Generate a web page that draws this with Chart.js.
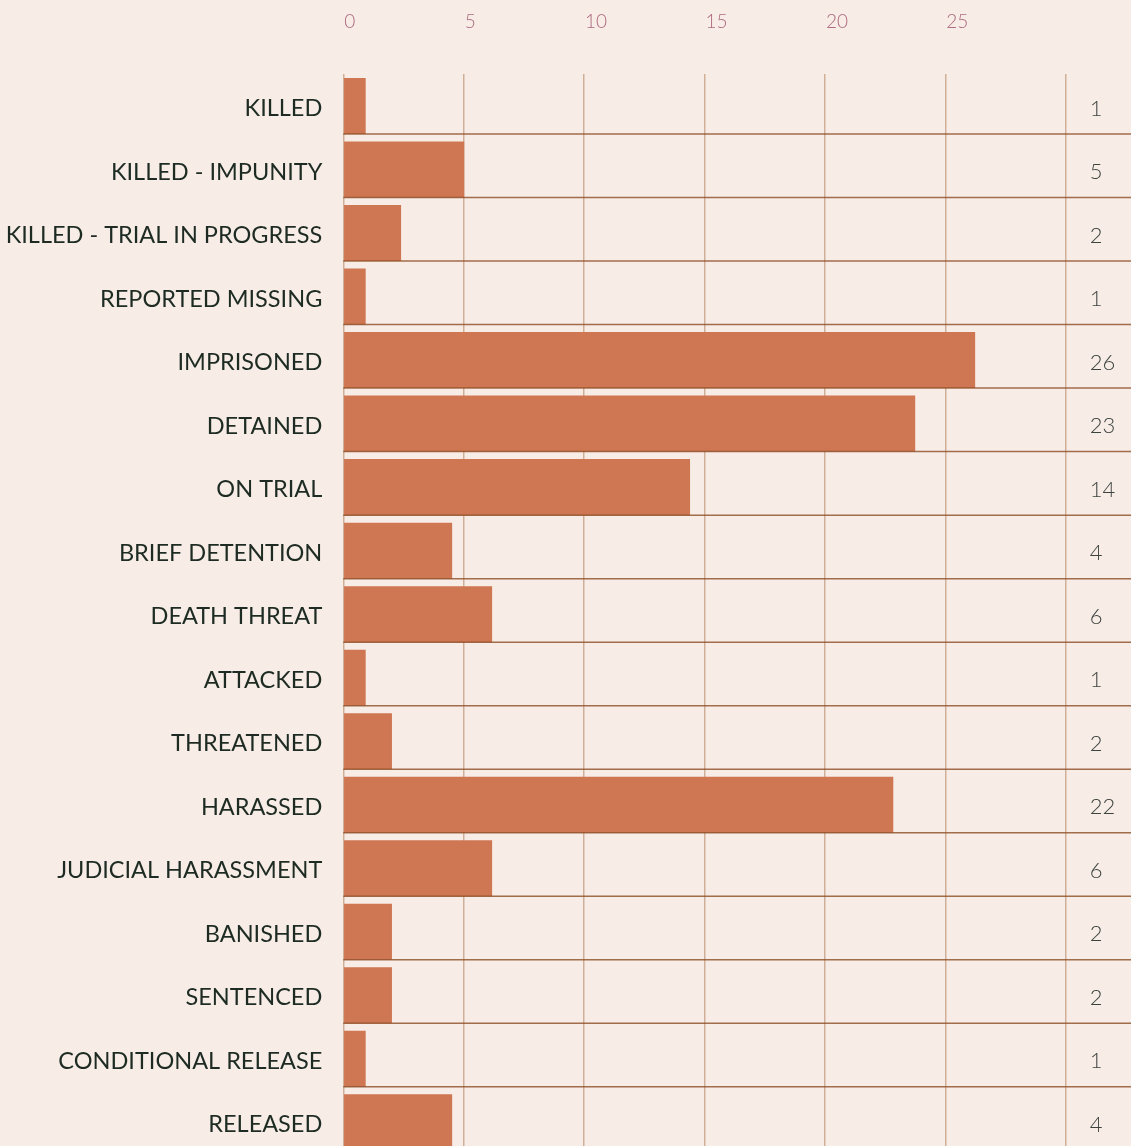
<!DOCTYPE html>
<html>
<head>
<meta charset="utf-8">
<script src="https://cdn.jsdelivr.net/npm/chart.js@4.4.1/dist/chart.umd.min.js"></script>
<style>
  html, body { margin: 0; padding: 0; background: #f7ece6; overflow: hidden; }
  canvas { display: block; }
</style>
</head>
<body>
<canvas id="chartCases" width="1131" height="1154"></canvas>
<script>
const categories = [
  'KILLED', 'KILLED - IMPUNITY', 'KILLED - TRIAL IN PROGRESS', 'REPORTED MISSING',
  'IMPRISONED', 'DETAINED', 'ON TRIAL', 'BRIEF DETENTION', 'DEATH THREAT',
  'ATTACKED', 'THREATENED', 'HARASSED', 'JUDICIAL HARASSMENT', 'BANISHED',
  'SENTENCED', 'CONDITIONAL RELEASE', 'RELEASED'
];
// numbers printed at the right of each row
const counts = [1, 5, 2, 1, 26, 23, 14, 4, 6, 1, 2, 22, 6, 2, 2, 1, 4];
// bar lengths
const barLengths = [0.93, 5.02, 2.4, 0.93, 26.24, 23.75, 14.4, 4.52, 6.18, 0.93, 2.02, 22.84, 6.18, 2.02, 2.02, 0.93, 4.52];
const xTicks = [0, 5, 10, 15, 20, 25];

// row separators sit on the bottom edge of every bar
const rowLines = {
  id: 'rowLines',
  afterDatasetsDraw(chart) {
    const ctx = chart.ctx;
    const meta = chart.getDatasetMeta(0);
    ctx.save();
    ctx.strokeStyle = 'rgba(140, 78, 36, 0.8)';
    ctx.lineWidth = 1.5;
    meta.data.forEach((bar) => {
      const y = bar.y + bar.height / 2;
      ctx.beginPath();
      ctx.moveTo(chart.chartArea.left, y);
      ctx.lineTo(chart.width, y);
      ctx.stroke();
    });
    ctx.restore();
  },
};

// category axes should not reserve room above/below for their labels
function fitSide(width) {
  return (scale) => {
    scale.width = width;
    scale.paddingTop = 0;
    scale.paddingBottom = 0;
  };
}

var ctx = document.getElementById('chartCases');
var myBarChart = new Chart(ctx, {
  type: 'bar',
  data: {
    labels: categories,
    datasets: [
      {
        label: 'Cases',
        data: barLengths,
        backgroundColor: '#cf7652',
        borderWidth: 0,
        categoryPercentage: 1,
        barPercentage: 0.882,
      },
    ],
  },
  options: {
    indexAxis: 'y',
    responsive: false,
    animation: false,
    layout: { padding: 0 },
    plugins: {
      legend: { display: false },
      tooltip: { enabled: false },
    },
    scales: {
      x: {
        position: 'top',
        min: 0,
        max: 30,
        z: 1,
        afterFit: (scale) => { scale.height = 74.3; },
        border: { display: false },
        grid: {
          color: 'rgba(153, 90, 42, 0.42)',
          lineWidth: 1.5,
          drawTicks: false,
        },
        ticks: {
          stepSize: 5,
          align: 'start',
          labelOffset: 1,
          padding: 41,
          color: '#ad6a80',
          font: { family: 'Lato', size: 19, weight: 300 },
          callback: (value) => (xTicks.includes(value) ? value : ''),
        },
      },
      y: {
        position: 'left',
        offset: true,
        afterFit: fitSide(343.3),
        border: { display: false },
        grid: { display: false, drawTicks: false },
        ticks: {
          padding: 21,
          labelOffset: 2.5,
          color: '#1d2b22',
          font: { family: 'Lato', size: 23.5 },
        },
      },
      y2: {
        type: 'category',
        position: 'right',
        offset: true,
        labels: counts.map(String),
        afterFit: fitSide(1131 - 1065.7),
        border: { display: false },
        grid: { display: false, drawTicks: false },
        ticks: {
          padding: 24,
          labelOffset: 2.5,
          color: '#3c423e',
          font: { family: 'Lato', size: 22, weight: 300 },
        },
      },
    },
  },
  plugins: [rowLines],
});
</script>
</body>
</html>
